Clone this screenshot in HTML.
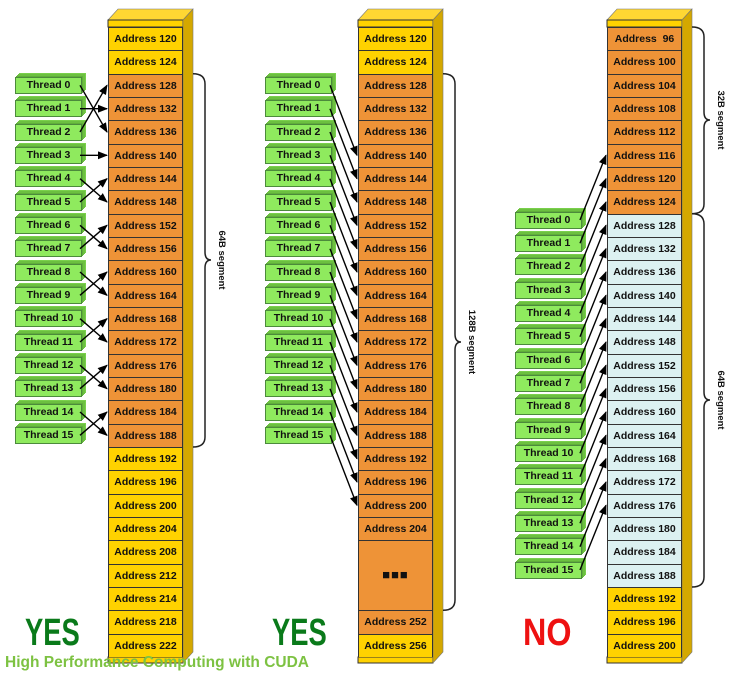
<!DOCTYPE html>
<html><head><meta charset="utf-8"><style>
body{margin:0;width:743px;height:674px;background:#fff;position:relative;overflow:hidden;font-family:"Liberation Sans",sans-serif}
.col{position:absolute;top:27px;width:75px;border-left:1px solid #333;border-right:1px solid #333;box-sizing:border-box}
.r{height:23.33px;box-sizing:border-box;border-top:1px solid #333;font-weight:bold;font-size:10.5px;text-align:center;line-height:22px;color:#111}
.y{background:#FFD200}.o{background:#EE9337}.b{background:#DCF1F1}
.t{position:absolute;width:67px;height:17px;background:#8FEA5E;border:1px solid #4c8a3c;box-sizing:border-box;font-weight:bold;font-size:10.5px;text-align:center;line-height:15px;color:#111;box-shadow:1px -1px 0 #5fae3a,2px -2px 0 #6cc040,3px -3px 0 #6cc040,4px -4px 0 #7ad04c}
svg{position:absolute;left:0;top:0}
.big{position:absolute;font-weight:bold;font-size:38px;top:612px;transform:scaleX(0.72);transform-origin:0 0}
</style></head><body>
<svg width="743" height="674">
<g fill="#FFD733" stroke="#777" stroke-width="0.6">
<polygon points="108,20 118,9 193,9 183,20"/><polygon points="358,20 368,9 443,9 433,20"/><polygon points="607,20 617,9 692,9 682,20"/></g>
<g fill="#FFD200" stroke="#333" stroke-width="1"><rect x="108" y="20" width="75" height="7"/><rect x="358" y="20" width="75" height="7"/><rect x="607" y="20" width="75" height="7"/>
<rect x="108" y="657" width="75" height="6"/><rect x="358" y="657" width="75" height="6"/><rect x="607" y="657" width="75" height="6"/></g>
<g fill="#D4A800" stroke="#777" stroke-width="0.6">
<polygon points="183,20 193,9 193,652 183,663"/><polygon points="433,20 443,9 443,652 433,663"/><polygon points="682,20 692,9 692,652 682,663"/></g>
</svg>
<div class="col" style="left:108px">
<div class="r y">Address 120</div><div class="r y">Address 124</div><div class="r o">Address 128</div><div class="r o">Address 132</div><div class="r o">Address 136</div><div class="r o">Address 140</div><div class="r o">Address 144</div><div class="r o">Address 148</div><div class="r o">Address 152</div><div class="r o">Address 156</div><div class="r o">Address 160</div><div class="r o">Address 164</div><div class="r o">Address 168</div><div class="r o">Address 172</div><div class="r o">Address 176</div><div class="r o">Address 180</div><div class="r o">Address 184</div><div class="r o">Address 188</div><div class="r y">Address 192</div><div class="r y">Address 196</div><div class="r y">Address 200</div><div class="r y">Address 204</div><div class="r y">Address 208</div><div class="r y">Address 212</div><div class="r y">Address 214</div><div class="r y">Address 218</div><div class="r y">Address 222</div>
</div>
<div class="col" style="left:358px">
<div class="r y">Address 120</div><div class="r y">Address 124</div><div class="r o">Address 128</div><div class="r o">Address 132</div><div class="r o">Address 136</div><div class="r o">Address 140</div><div class="r o">Address 144</div><div class="r o">Address 148</div><div class="r o">Address 152</div><div class="r o">Address 156</div><div class="r o">Address 160</div><div class="r o">Address 164</div><div class="r o">Address 168</div><div class="r o">Address 172</div><div class="r o">Address 176</div><div class="r o">Address 180</div><div class="r o">Address 184</div><div class="r o">Address 188</div><div class="r o">Address 192</div><div class="r o">Address 196</div><div class="r o">Address 200</div><div class="r o">Address 204</div><div class="r o" style="height:70px;line-height:68px;font-size:13px;letter-spacing:1px">&#9632;&#9632;&#9632;</div><div class="r o">Address 252</div><div class="r y">Address 256</div>
</div>
<div class="col" style="left:607px">
<div class="r o">Address &nbsp;96</div><div class="r o">Address 100</div><div class="r o">Address 104</div><div class="r o">Address 108</div><div class="r o">Address 112</div><div class="r o">Address 116</div><div class="r o">Address 120</div><div class="r o">Address 124</div><div class="r b">Address 128</div><div class="r b">Address 132</div><div class="r b">Address 136</div><div class="r b">Address 140</div><div class="r b">Address 144</div><div class="r b">Address 148</div><div class="r b">Address 152</div><div class="r b">Address 156</div><div class="r b">Address 160</div><div class="r b">Address 164</div><div class="r b">Address 168</div><div class="r b">Address 172</div><div class="r b">Address 176</div><div class="r b">Address 180</div><div class="r b">Address 184</div><div class="r b">Address 188</div><div class="r y">Address 192</div><div class="r y">Address 196</div><div class="r y">Address 200</div>
</div>

<div class="t" style="left:15px;top:77px">Thread 0</div><div class="t" style="left:15px;top:100px">Thread 1</div><div class="t" style="left:15px;top:124px">Thread 2</div><div class="t" style="left:15px;top:147px">Thread 3</div><div class="t" style="left:15px;top:170px">Thread 4</div><div class="t" style="left:15px;top:194px">Thread 5</div><div class="t" style="left:15px;top:217px">Thread 6</div><div class="t" style="left:15px;top:240px">Thread 7</div><div class="t" style="left:15px;top:264px">Thread 8</div><div class="t" style="left:15px;top:287px">Thread 9</div><div class="t" style="left:15px;top:310px">Thread 10</div><div class="t" style="left:15px;top:334px">Thread 11</div><div class="t" style="left:15px;top:357px">Thread 12</div><div class="t" style="left:15px;top:380px">Thread 13</div><div class="t" style="left:15px;top:404px">Thread 14</div><div class="t" style="left:15px;top:427px">Thread 15</div>

<div class="t" style="left:265px;top:77px">Thread 0</div><div class="t" style="left:265px;top:100px">Thread 1</div><div class="t" style="left:265px;top:124px">Thread 2</div><div class="t" style="left:265px;top:147px">Thread 3</div><div class="t" style="left:265px;top:170px">Thread 4</div><div class="t" style="left:265px;top:194px">Thread 5</div><div class="t" style="left:265px;top:217px">Thread 6</div><div class="t" style="left:265px;top:240px">Thread 7</div><div class="t" style="left:265px;top:264px">Thread 8</div><div class="t" style="left:265px;top:287px">Thread 9</div><div class="t" style="left:265px;top:310px">Thread 10</div><div class="t" style="left:265px;top:334px">Thread 11</div><div class="t" style="left:265px;top:357px">Thread 12</div><div class="t" style="left:265px;top:380px">Thread 13</div><div class="t" style="left:265px;top:404px">Thread 14</div><div class="t" style="left:265px;top:427px">Thread 15</div>

<div class="t" style="left:515px;top:212px">Thread 0</div><div class="t" style="left:515px;top:235px">Thread 1</div><div class="t" style="left:515px;top:258px">Thread 2</div><div class="t" style="left:515px;top:282px">Thread 3</div><div class="t" style="left:515px;top:305px">Thread 4</div><div class="t" style="left:515px;top:328px">Thread 5</div><div class="t" style="left:515px;top:352px">Thread 6</div><div class="t" style="left:515px;top:375px">Thread 7</div><div class="t" style="left:515px;top:398px">Thread 8</div><div class="t" style="left:515px;top:422px">Thread 9</div><div class="t" style="left:515px;top:445px">Thread 10</div><div class="t" style="left:515px;top:468px">Thread 11</div><div class="t" style="left:515px;top:492px">Thread 12</div><div class="t" style="left:515px;top:515px">Thread 13</div><div class="t" style="left:515px;top:538px">Thread 14</div><div class="t" style="left:515px;top:562px">Thread 15</div>

<svg width="743" height="674">
<defs><marker id="a" markerWidth="10" markerHeight="8" refX="9" refY="4" orient="auto" markerUnits="userSpaceOnUse"><path d="M0,0 L10,4 L0,8z" fill="#000"/></marker></defs>
<g stroke="#000" stroke-width="1.4" marker-end="url(#a)">
<line x1="80" y1="85.3" x2="107" y2="132"/><line x1="80" y1="108.7" x2="107" y2="108.7"/><line x1="80" y1="132" x2="107" y2="85.3"/><line x1="80" y1="155.3" x2="107" y2="155.3"/>
<line x1="80" y1="178.7" x2="107" y2="202"/><line x1="80" y1="202" x2="107" y2="178.7"/><line x1="80" y1="225.3" x2="107" y2="248.7"/><line x1="80" y1="248.7" x2="107" y2="225.3"/>
<line x1="80" y1="272" x2="107" y2="295.3"/><line x1="80" y1="295.3" x2="107" y2="272"/><line x1="80" y1="318.7" x2="107" y2="342"/><line x1="80" y1="342" x2="107" y2="318.7"/>
<line x1="80" y1="365.3" x2="107" y2="388.7"/><line x1="80" y1="388.7" x2="107" y2="365.3"/><line x1="80" y1="412" x2="107" y2="435.3"/><line x1="80" y1="435.3" x2="107" y2="412"/>

<line x1="330" y1="85.3" x2="357" y2="155.3"/><line x1="330" y1="108.7" x2="357" y2="178.7"/><line x1="330" y1="132" x2="357" y2="202"/><line x1="330" y1="155.3" x2="357" y2="225.3"/>
<line x1="330" y1="178.7" x2="357" y2="248.7"/><line x1="330" y1="202" x2="357" y2="272"/><line x1="330" y1="225.3" x2="357" y2="295.3"/><line x1="330" y1="248.7" x2="357" y2="318.7"/>
<line x1="330" y1="272" x2="357" y2="342"/><line x1="330" y1="295.3" x2="357" y2="365.3"/><line x1="330" y1="318.7" x2="357" y2="388.7"/><line x1="330" y1="342" x2="357" y2="412"/>
<line x1="330" y1="365.3" x2="357" y2="435.3"/><line x1="330" y1="388.7" x2="357" y2="458.7"/><line x1="330" y1="412" x2="357" y2="482"/><line x1="330" y1="435.3" x2="357" y2="505.3"/>

<line x1="580" y1="220" x2="606" y2="155.3"/><line x1="580" y1="243.3" x2="606" y2="178.7"/><line x1="580" y1="266.7" x2="606" y2="202"/><line x1="580" y1="290" x2="606" y2="225.3"/>
<line x1="580" y1="313.3" x2="606" y2="248.7"/><line x1="580" y1="336.7" x2="606" y2="272"/><line x1="580" y1="360" x2="606" y2="295.3"/><line x1="580" y1="383.3" x2="606" y2="318.7"/>
<line x1="580" y1="406.7" x2="606" y2="342"/><line x1="580" y1="430" x2="606" y2="365.3"/><line x1="580" y1="453.3" x2="606" y2="388.7"/><line x1="580" y1="476.7" x2="606" y2="412"/>
<line x1="580" y1="500" x2="606" y2="435.3"/><line x1="580" y1="523.3" x2="606" y2="458.7"/><line x1="580" y1="546.7" x2="606" y2="482"/><line x1="580" y1="570" x2="606" y2="505.3"/>
</g>
<g fill="none" stroke="#222" stroke-width="1.5">
<path d="M193,73.7 Q205,73.7 205,84 V252 Q205,260 211,260 Q205,260 205,268 V437 Q205,447 193,447"/>
<path d="M443,73.7 Q455,73.7 455,84 V334 Q455,342 461,342 Q455,342 455,350 V600 Q455,610.3 443,610.3"/>
<path d="M692,27 Q704,27 704,37 V112 Q704,120 710,120 Q704,120 704,128 V204 Q704,213.7 692,213.7"/>
<path d="M692,213.7 Q704,213.7 704,224 V392 Q704,400 710,400 Q704,400 704,408 V577 Q704,587 692,587"/>
</g>
<g font-family="Liberation Sans,sans-serif" font-weight="bold" font-size="9.5" fill="#111" text-anchor="middle">
<text transform="translate(219,260) rotate(90)">64B segment</text>
<text transform="translate(469,342) rotate(90)">128B segment</text>
<text transform="translate(718,120) rotate(90)">32B segment</text>
<text transform="translate(718,400) rotate(90)">64B segment</text>
</g>
</svg>
<div class="big" style="left:25px;color:#0a7a1a">YES</div>
<div class="big" style="left:272px;color:#0a7a1a">YES</div>
<div class="big" style="left:523px;color:#ee1111;transform:scaleX(0.85)">NO</div>
<div style="position:absolute;left:5px;top:654px;font-weight:bold;font-size:15.5px;color:#7dc242">High Performance Computing with CUDA</div>
</body></html>
